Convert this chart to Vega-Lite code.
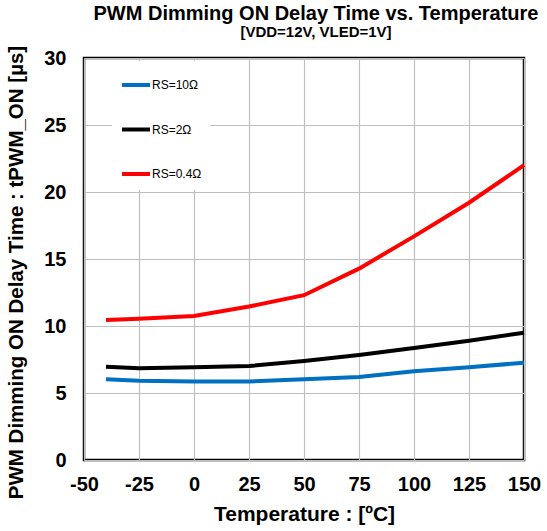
{
  "$schema": "https://vega.github.io/schema/vega-lite/v6.json",
  "width": 440,
  "height": 402,
  "autosize": {"type": "none"},
  "padding": {"left": 84, "top": 58, "right": 23, "bottom": 71},
  "background": "white",
  "config": {
    "font": "Liberation Sans",
    "view": {"stroke": "black", "strokeWidth": 2.5},
    "axis": {
      "grid": true,
      "gridColor": "#bfbfbf",
      "gridWidth": 1.2,
      "ticks": false,
      "domain": false,
      "labelFlush": false,
      "labelFont": "Liberation Sans",
      "labelFontWeight": "bold",
      "labelFontSize": 20,
      "labelColor": "black",
      "titleFont": "Liberation Sans",
      "titleFontWeight": "bold",
      "titleFontSize": 20.5,
      "titleColor": "black"
    }
  },
  "title": {
    "text": "PWM Dimming ON Delay Time vs. Temperature",
    "subtitle": "[VDD=12V, VLED=1V]",
    "font": "Liberation Sans",
    "subtitleFont": "Liberation Sans",
    "fontSize": 20,
    "fontWeight": "bold",
    "subtitleFontSize": 15,
    "subtitleFontWeight": "bold",
    "color": "black",
    "subtitleColor": "black",
    "anchor": "middle",
    "dx": 12,
    "offset": 5,
    "subtitlePadding": 1
  },
  "data": {
    "values": [
      {"temp": -40, "delay": 6.02, "rs": "RS=10Ω"},
      {"temp": -25, "delay": 5.92, "rs": "RS=10Ω"},
      {"temp": 0, "delay": 5.85, "rs": "RS=10Ω"},
      {"temp": 25, "delay": 5.86, "rs": "RS=10Ω"},
      {"temp": 50, "delay": 6.03, "rs": "RS=10Ω"},
      {"temp": 75, "delay": 6.2, "rs": "RS=10Ω"},
      {"temp": 100, "delay": 6.62, "rs": "RS=10Ω"},
      {"temp": 125, "delay": 6.92, "rs": "RS=10Ω"},
      {"temp": 150, "delay": 7.26, "rs": "RS=10Ω"},
      {"temp": -40, "delay": 6.96, "rs": "RS=2Ω"},
      {"temp": -25, "delay": 6.84, "rs": "RS=2Ω"},
      {"temp": 0, "delay": 6.92, "rs": "RS=2Ω"},
      {"temp": 25, "delay": 7.01, "rs": "RS=2Ω"},
      {"temp": 50, "delay": 7.38, "rs": "RS=2Ω"},
      {"temp": 75, "delay": 7.84, "rs": "RS=2Ω"},
      {"temp": 100, "delay": 8.36, "rs": "RS=2Ω"},
      {"temp": 125, "delay": 8.9, "rs": "RS=2Ω"},
      {"temp": 150, "delay": 9.5, "rs": "RS=2Ω"},
      {"temp": -40, "delay": 10.45, "rs": "RS=0.4Ω"},
      {"temp": -25, "delay": 10.55, "rs": "RS=0.4Ω"},
      {"temp": 0, "delay": 10.75, "rs": "RS=0.4Ω"},
      {"temp": 25, "delay": 11.45, "rs": "RS=0.4Ω"},
      {"temp": 50, "delay": 12.3, "rs": "RS=0.4Ω"},
      {"temp": 75, "delay": 14.28, "rs": "RS=0.4Ω"},
      {"temp": 100, "delay": 16.69, "rs": "RS=0.4Ω"},
      {"temp": 125, "delay": 19.2, "rs": "RS=0.4Ω"},
      {"temp": 150, "delay": 22.0, "rs": "RS=0.4Ω"}
    ]
  },
  "mark": {"type": "line", "strokeWidth": 4},
  "encoding": {
    "x": {
      "field": "temp",
      "type": "quantitative",
      "scale": {"domain": [-50, 150], "nice": false},
      "axis": {
        "values": [-50, -25, 0, 25, 50, 75, 100, 125, 150],
        "labelExpr": "'' + datum.value",
        "title": "Temperature : [ºC]",
        "titleFontSize": 21,
        "labelPadding": 14,
        "titlePadding": 9
      }
    },
    "y": {
      "field": "delay",
      "type": "quantitative",
      "scale": {"domain": [0, 30], "nice": false},
      "axis": {
        "values": [0, 5, 10, 15, 20, 25, 30],
        "title": "PWM Dimming ON Delay Time : tPWM_ON [µs]",
        "labelPadding": 18,
        "titleX": -68,
        "titleY": 214,
        "titleAngle": -90,
        "titleAlign": "center",
        "titleBaseline": "middle"
      }
    },
    "color": {
      "field": "rs",
      "type": "nominal",
      "scale": {
        "domain": ["RS=10Ω", "RS=2Ω", "RS=0.4Ω"],
        "range": ["#0070C0", "#000000", "#FF0000"]
      },
      "legend": {
        "title": null,
        "orient": "none",
        "legendX": 28,
        "legendY": 3,
        "padding": 8,
        "fillColor": "white",
        "strokeColor": null,
        "symbolType": "stroke",
        "symbolSize": 784,
        "symbolStrokeWidth": 4,
        "labelFont": "Liberation Sans",
        "labelFontSize": 12,
        "labelColor": "black",
        "labelOffset": 0,
        "rowPadding": 20.5
      }
    }
  }
}
